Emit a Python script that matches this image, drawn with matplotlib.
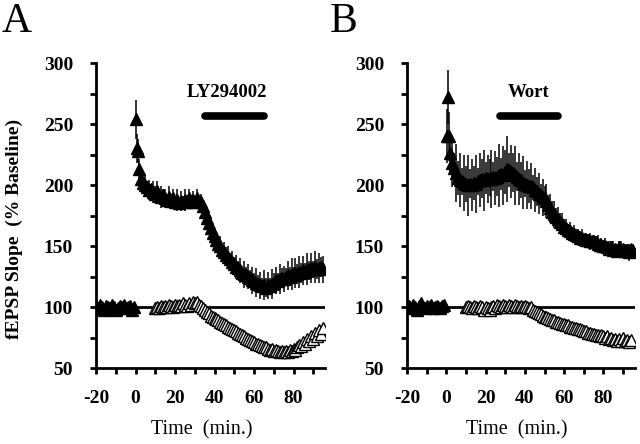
import numpy as np
import matplotlib.pyplot as plt

plt.rcParams['font.family'] = ['Liberation Serif', 'DejaVu Serif']
plt.rcParams['axes.unicode_minus'] = False

# ---- panel A data (LY294002) ----
# filled triangles: LTP group
tA_fill = [-20, -19, -18, -17, -16, -15, -14, -13, -12, -11, -10, -9, -8, -7, -6, -5, -4, -3, -2, -1,
           0.5, 1, 1.5, 2] + list(range(3, 96))
yA_fill = [101, 99, 102, 100, 98, 101, 100, 99, 102, 100, 98, 99, 101, 100, 102, 99, 100, 101, 98, 100,
           254, 230, 228, 213,
           205, 202, 200, 198, 196, 197, 194, 193, 195, 191,
           190, 192, 189, 188, 190, 187, 189, 186, 188, 185,
           187, 186, 188, 186, 189, 187, 188, 186, 189, 187,
           186, 183, 178, 173, 169, 165, 161, 158, 155, 152,
           150, 147, 145, 143, 141, 139, 137, 135, 133, 132,
           130, 128, 127, 126, 125, 124, 122, 121, 120, 119,
           118, 117, 118, 116, 118, 117, 119, 120, 122, 121,
           123, 124, 123, 125, 126, 125, 127, 126, 128, 127,
           129, 128, 130, 129, 131, 130, 132, 131, 133, 131,
           132, 133, 131]
eA_fill = [3, 2, 3, 2, 3, 2, 3, 2, 3, 2, 3, 2, 3, 2, 3, 2, 3, 2, 3, 2,
           16, 12, 10, 8,
           8, 5, 9, 5, 8, 4, 9, 6, 8, 5,
           9, 5, 8, 4, 9, 6, 8, 5, 9, 4,
           8, 5, 9, 6, 8, 4, 7, 5, 8, 4,
           7, 4, 6, 5, 7, 4, 6, 5, 7, 5,
           8, 5, 8, 6, 9, 5, 9, 6, 10, 6,
           10, 6, 11, 7, 10, 6, 11, 7, 12, 7,
           11, 7, 12, 8, 11, 7, 12, 8, 11, 7,
           12, 8, 11, 7, 12, 8, 13, 7, 12, 8,
           13, 8, 12, 7, 13, 8, 12, 7, 13, 8,
           12, 8, 11]

# open triangles: control group
tA_open = list(range(10, 96))
yA_open = [99, 100, 99, 101, 100, 101, 100, 102, 101, 100,
           102, 101, 102, 101, 103, 102, 101, 103, 102, 104,
           103, 104, 102, 101, 99, 98, 96, 95, 93, 92,
           91, 90, 89, 88, 87, 86, 85, 84, 83, 82,
           81, 80, 79, 78, 77, 76, 75, 74, 73, 72,
           71, 70, 70, 69, 68, 67, 67, 66, 65, 66,
           64, 65, 64, 63, 64, 63, 64, 63, 65, 64,
           66, 65, 67, 69, 68, 71, 70, 74, 72, 76,
           74, 79, 76, 81, 78, 83]
eA_open = [3, 4, 3, 3, 4, 3, 4, 3, 3, 4,
           3, 4, 3, 3, 4, 3, 4, 3, 3, 4,
           3, 4, 3, 3, 4, 3, 4, 3, 3, 4,
           3, 4, 3, 3, 4, 3, 4, 3, 3, 4,
           3, 4, 3, 3, 4, 3, 4, 3, 3, 4,
           3, 4, 3, 3, 4, 3, 4, 3, 3, 4,
           3, 4, 3, 3, 4, 3, 4, 3, 3, 4,
           3, 4, 3, 3, 4, 3, 4, 3, 3, 4,
           4, 3, 4, 3, 4, 3]

# ---- panel B data (Wortmannin) ----
tB_fill = [-20, -19, -18, -17, -16, -15, -14, -13, -12, -11, -10, -9, -8, -7, -6, -5, -4, -3, -2, -1,
           0.5, 1, 1.5, 2] + list(range(3, 96))
yB_fill = [100, 101, 99, 102, 100, 98, 101, 103, 100, 99, 101, 100, 102, 99, 100, 101, 100, 99, 101, 102,
           240, 272, 240, 226,
           218, 214, 210, 206, 204, 203, 202, 201, 200, 201,
           200, 202, 201, 203, 204, 205, 204, 206, 205, 206,
           205, 207, 206, 207, 208, 209, 208, 211, 213, 212,
           211, 210, 208, 207, 205, 204, 202, 201, 200, 199,
           199, 198, 196, 195, 193, 192, 190, 189, 187, 184,
           181, 178, 176, 174, 172, 170, 168, 166, 165, 163,
           162, 161, 160, 159, 158, 157, 157, 156, 155, 155,
           154, 154, 153, 153, 152, 151, 151, 150, 150, 149,
           148, 149, 147, 148, 146, 149, 147, 148, 146, 147,
           145, 148, 146]
eB_fill = [3, 2, 3, 2, 3, 2, 3, 2, 3, 2, 3, 2, 3, 2, 3, 2, 3, 2, 3, 2,
           22, 22, 20, 15,
           20, 12, 24, 14, 22, 11, 23, 15, 25, 12,
           21, 14, 24, 11, 22, 16, 25, 13, 20, 15,
           24, 12, 22, 16, 26, 13, 24, 18, 27, 14,
           22, 16, 24, 12, 21, 15, 22, 11, 20, 14,
           19, 10, 18, 12, 17, 9, 15, 10, 14, 8,
           12, 9, 11, 7, 10, 7, 9, 6,
           7, 5, 8, 5, 7, 4, 6, 5, 7, 4,
           6, 5, 7, 4, 6, 5, 7, 4, 6, 5,
           7, 4, 6, 5, 7, 4, 6, 5, 7, 4,
           6, 5, 7, 4, 6]

tB_open = list(range(10, 95))
yB_open = [100, 101, 100, 99, 101, 100, 99, 101, 100, 98,
           100, 99, 98, 100, 101, 99, 102, 101, 100, 102,
           101, 100, 102, 101, 100, 102, 101, 100, 101, 100,
           101, 100, 99, 100, 98, 97, 96, 95, 94, 93,
           92, 92, 91, 90, 89, 89, 88, 88, 87, 86,
           86, 85, 85, 84, 84, 83, 83, 82, 82, 81,
           80, 80, 79, 79, 78, 78, 77, 77, 76, 77,
           76, 75, 76, 74, 75, 73, 74, 72, 74, 72,
           75, 72, 73, 71, 73]
eB_open = [3, 4, 3, 3, 4, 3, 4, 3, 3, 4,
           3, 4, 3, 3, 4, 3, 4, 3, 3, 4,
           3, 4, 3, 3, 4, 3, 4, 3, 3, 4,
           3, 4, 3, 3, 4, 3, 4, 3, 3, 4,
           3, 4, 3, 3, 4, 3, 4, 3, 3, 4,
           3, 4, 3, 3, 4, 3, 4, 3, 3, 4,
           3, 4, 3, 3, 4, 3, 4, 3, 3, 4,
           3, 4, 3, 3, 4, 3, 4, 3, 3, 4,
           4, 3, 4, 3, 4]

panels = [
    ('A', 'LY294002', (35, 65), 46.5, [0.150, 0.171, 0.358, 0.687], 0.463, True,
     (tA_fill, yA_fill, eA_fill), (tA_open, yA_open, eA_open)),
    ('B', 'Wort', (27.5, 57), 42.0, [0.636, 0.171, 0.356, 0.687], 0.48, False,
     (tB_fill, yB_fill, eB_fill), (tB_open, yB_open, eB_open)),
]

fig = plt.figure(figsize=(6.4, 4.44), dpi=100)

for letter, drug, bar, txt_x, rect, xlab_x, show_ylab, filled, opened in panels:
    ax = fig.add_axes(rect)
    ax.axhline(100, color='black', lw=2, zorder=1)

    # open group first, filled drawn on top
    ax.errorbar(opened[0], opened[1], yerr=opened[2], fmt='^', ms=9,
                mfc='white', mec='black', mew=1, ecolor='black', elinewidth=1,
                capsize=0, zorder=2)
    ax.errorbar(filled[0], filled[1], yerr=filled[2], fmt='^', ms=8,
                mfc='black', mec='black', mew=1, ecolor='black', elinewidth=1.1,
                capsize=0, zorder=3)

    # drug application bar
    ax.plot(bar, [257, 257], color='black', lw=5.5, solid_capstyle='round')
    ax.text(txt_x, 276, drug, ha='center', va='center', fontsize=13.5, fontweight='bold')

    ax.set_xlim(-20, 96)
    ax.set_ylim(50, 300)
    ax.set_xticks(np.arange(-20, 81, 20))
    ax.set_xticks(np.arange(-10, 91, 20), minor=True)
    ax.set_yticks(np.arange(50, 301, 50))
    ax.set_yticks(np.arange(75, 276, 50), minor=True)
    for lab in ax.get_xticklabels() + ax.get_yticklabels():
        lab.set_fontweight('bold')
    ax.tick_params(which='both', direction='out', length=4.5, width=2, labelsize=14)
    ax.tick_params(axis='x', which='major', pad=11)
    ax.tick_params(axis='y', which='major', pad=12)

    for side in ['top', 'right']:
        ax.spines[side].set_visible(False)
    for side in ['left', 'bottom']:
        ax.spines[side].set_linewidth(2)

    ax.set_xlabel('Time  (min.)', fontsize=14.5)
    ax.xaxis.set_label_coords(xlab_x, -0.17)
    if show_ylab:
        ax.set_ylabel('fEPSP Slope  (% Baseline)', fontsize=14, fontweight='bold')
        ax.yaxis.set_label_coords(-0.32, 0.455)

    fig.text(rect[0] - 0.148 if letter == 'A' else rect[0] - 0.12, 0.995, letter,
             fontsize=30, ha='left', va='top')

fig.savefig('out.png', dpi=100, facecolor='white')
